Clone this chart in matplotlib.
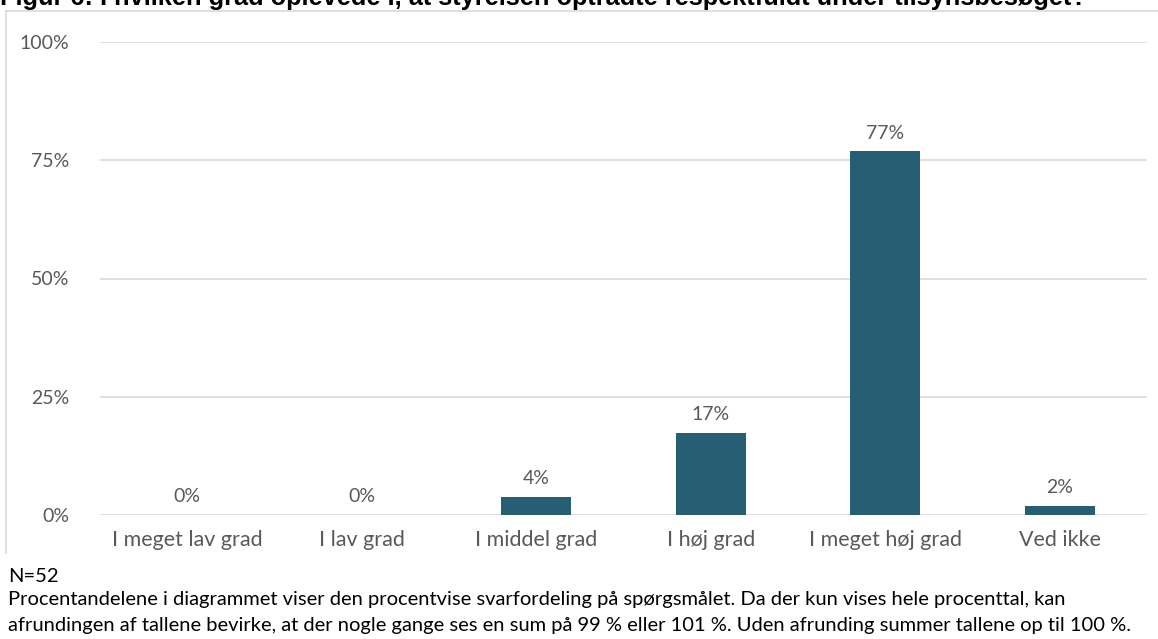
import matplotlib
matplotlib.use("Agg")
import matplotlib.pyplot as plt
from matplotlib.lines import Line2D
import numpy as np

categories = ["I meget lav grad", "I lav grad", "I middel grad", "I høj grad", "I meget høj grad", "Ved ikke"]
values = [0.0, 0.0, 3.8, 17.3, 76.9, 1.9]
value_labels = ["0%", "0%", "4%", "17%", "77%", "2%"]
yticks = [0, 25, 50, 75, 100]
ytick_labels = ["0%", "25%", "50%", "75%", "100%"]
title = "Figur 6: I hvilken grad oplevede I, at styrelsen optrådte respektfuldt under tilsynsbesøget?"
note_n = "N=52"
note_lines = ["Procentandelene i diagrammet viser den procentvise svarfordeling på spørgsmålet. Da der kun vises hele procenttal, kan",
              "afrundingen af tallene bevirke, at der nogle gange ses en sum på 99 % eller 101 %. Uden afrunding summer tallene op til 100 %."]

W, H = 1158, 639
fig = plt.figure(figsize=(W/100, H/100), dpi=100)
font = "Lato"
gray = "#595959"
bar_color = "#265F73"

def fx(px): return px / W
def fy(py): return 1 - py / H

# border
fig.add_artist(Line2D([fx(6), fx(6)], [fy(11), fy(553)], color="#D9D9D9", lw=1.2))
fig.add_artist(Line2D([fx(6), fx(1160)], [fy(11), fy(11)], color="#D9D9D9", lw=1.2))

ax = fig.add_axes([fx(100), fy(515), fx(1147) - fx(100), fy(42) - fy(515)])
x = np.arange(len(categories))
ax.bar(x, values, width=0.4, color=bar_color, zorder=3)
ax.set_xlim(-0.5, len(categories) - 0.5)
ax.set_ylim(0, 100)
ax.set_yticks(yticks)
ax.set_yticklabels(ytick_labels, fontsize=14, color=gray, family=font)
ax.set_xticks(x)
ax.set_xticklabels(categories, fontsize=15.5, color=gray, family=font)
ax.tick_params(axis="both", length=0)
ax.tick_params(axis="y", pad=22)
ax.tick_params(axis="x", pad=11)
for s in ax.spines.values():
    s.set_visible(False)
ax.grid(axis="y", color="#D9D9D9", lw=1.2, zorder=0)
ax.set_axisbelow(True)
for xi, v, lab in zip(x, values, value_labels):
    ax.annotate(lab, (xi, v), xytext=(0, 7), textcoords="offset points",
                ha="center", va="bottom", fontsize=14, color=gray, family=font)

fig.text(fx(0), fy(5), title, fontsize=18.3, fontweight="bold", family="Liberation Sans",
         color="black", ha="left", va="baseline")
fig.text(fx(8), fy(576), note_n, fontsize=14.5, family=font, color="black", ha="left", va="center")
fig.text(fx(8), fy(600), note_lines[0], fontsize=14.5, family=font, color="black", ha="left", va="center")
fig.text(fx(8), fy(625), note_lines[1], fontsize=14.5, family=font, color="black", ha="left", va="center")

fig.savefig("out.png", dpi=100)
